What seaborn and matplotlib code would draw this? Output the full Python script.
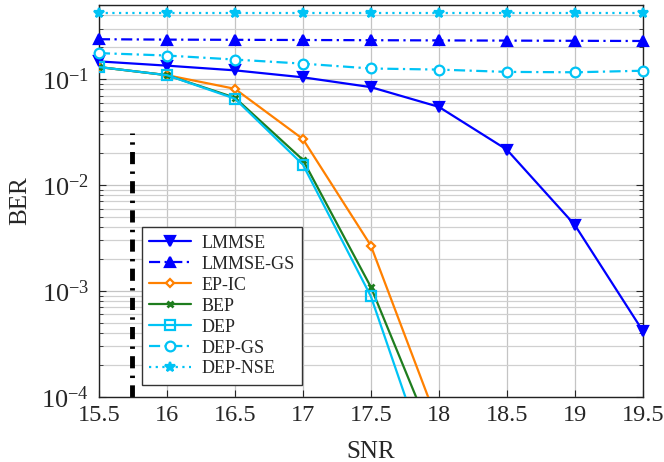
import numpy as np
import pandas as pd
import matplotlib
matplotlib.use("Agg")
import matplotlib.pyplot as plt
import seaborn as sns

snr = [15.5, 16, 16.5, 17, 17.5, 18, 18.5, 19, 19.5]
lmmse = [0.147, 0.134, 0.121, 0.104, 0.084, 0.0547, 0.0216, 0.0042, 0.00042]
lmmse_gs = [0.238, 0.236, 0.235, 0.234, 0.233, 0.232, 0.231, 0.230, 0.229]
dep_gs = [0.176, 0.167, 0.153, 0.140, 0.126, 0.123, 0.117, 0.116, 0.120]
dep_nse = [0.42, 0.42, 0.42, 0.42, 0.42, 0.42, 0.42, 0.42, 0.42]
snr_short = [15.5, 16, 16.5, 17, 17.5, 18]
ep_ic = [0.130, 0.109, 0.081, 0.0272, 0.00268, 5.4e-5]
bep = [0.130, 0.109, 0.0668, 0.0173, 0.00109, 3e-5]
dep = [0.130, 0.109, 0.0654, 0.0156, 0.00089, 1.2e-5]
marker_line_x = [15.74, 15.74]
marker_line_y = [1e-4, 0.031]

BLUE = "#0000ff"
ORANGE = "#ff8000"
GREEN = "#1e7d1e"
CYAN = "#00c3f5"

sns.set_style("ticks")
plt.rcParams['font.family'] = ['Liberation Serif', 'DejaVu Serif']
plt.rcParams['mathtext.fontset'] = 'stix'

fig = plt.figure(figsize=(6.64, 4.62), dpi=100)
ax = fig.add_axes([0.149, 0.141, 0.819, 0.848])

# name, x, y, style
series = [
    ("LMMSE", snr, lmmse, dict(color=BLUE, ls="-", marker="v", mfc=BLUE, ms=6.5, clip=False)),
    ("LMMSE-GS", snr, lmmse_gs, dict(color=BLUE, ls=(0, (5, 2, 1, 2)), marker="^", mfc=BLUE, ms=6.5, clip=False)),
    ("EP-IC", snr_short, ep_ic, dict(color=ORANGE, ls="-", marker="D", mfc="white", ms=4.5, clip=True)),
    ("BEP", snr_short, bep, dict(color=GREEN, ls="-", marker="x", mfc=GREEN, ms=4.5, mew=2, clip=True)),
    ("DEP", snr_short, dep, dict(color=CYAN, ls="-", marker="s", mfc="none", ms=7.5, clip=True)),
    ("DEP-GS", snr, dep_gs, dict(color=CYAN, ls=(0, (5, 2, 1, 2)), marker="o", mfc="white", ms=7, clip=False)),
    ("DEP-NSE", snr, dep_nse, dict(color=CYAN, ls=(0, (1, 2)), marker="*", mfc=CYAN, ms=7.5, clip=False)),
]
for name, xs, ys, kw in series:
    df = pd.DataFrame({"SNR": xs, "BER": ys})
    ms = kw.pop("ms", 8)
    mew = kw.pop("mew", 1.6)
    mfc = kw.pop("mfc")
    clip = kw.pop("clip")
    sns.lineplot(data=df, x="SNR", y="BER", ax=ax, label=name, lw=1.6,
                 markersize=ms, markeredgewidth=mew, markerfacecolor=mfc,
                 markeredgecolor=kw["color"], clip_on=clip, zorder=3, **kw)

sns.lineplot(x=marker_line_x, y=marker_line_y, ax=ax, color="black", lw=3.5,
             ls=(0, (2.5, 1.5, 0.5, 1.5)), estimator=None, sort=False,
             errorbar=None, legend=False)

ax.set_yscale("log")
ax.set_xlim(15.5, 19.5)
ax.set_ylim(1e-4, 0.5)
ax.set_xticks(snr)
ax.set_xticklabels(["15.5", "16", "16.5", "17", "17.5", "18", "18.5", "19", "19.5"])
ax.grid(True, which="major", color="#c4c4c4", lw=0.9)
ax.grid(True, which="minor", axis="y", color="#d0d0d0", lw=0.9)
ax.tick_params(which="both", direction="in", top=True, right=True)
ax.tick_params(axis="x", labelsize=17.5, pad=6)
ax.tick_params(axis="y", labelsize=19, pad=7)
ax.tick_params(which="major", length=5, width=0.8)
ax.tick_params(which="minor", length=3, width=0.6)
for s in ax.spines.values():
    s.set_linewidth(1.0)
    s.set_color("#222222")
ax.set_xlabel("SNR", fontsize=18, labelpad=11)
ax.set_ylabel("BER", fontsize=18, labelpad=7)

leg = ax.legend(loc="lower left", bbox_to_anchor=(0.079, 0.031), borderaxespad=0,
                fontsize=13, handlelength=2.3, labelspacing=0.22, fancybox=False,
                framealpha=1, edgecolor="#333333", borderpad=0.4, handletextpad=0.6)
leg.get_frame().set_linewidth(1.0)

fig.savefig("out.png", dpi=100)
